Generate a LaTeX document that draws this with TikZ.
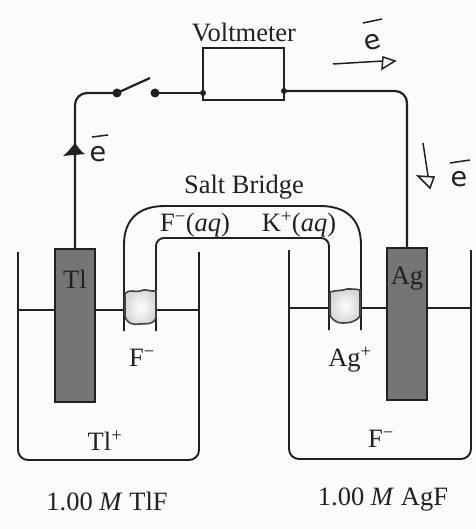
\documentclass[tikz,border=0pt]{standalone}
\usepackage{fontspec}
\setmainfont{Liberation Serif}
\newfontfamily\handfont{DejaVu Sans}
\definecolor{ink}{gray}{0.13}
\definecolor{metal}{gray}{0.46}
\definecolor{paper}{gray}{0.985}
\tikzset{
  lbl/.style={inner sep=0pt,font=\fontsize{26.5}{28}\selectfont,text=ink},
  wire/.style={draw=ink,line width=2.2pt},
  glassline/.style={draw=ink,line width=1.9pt},
  thinline/.style={draw=ink,line width=1.6pt},
  electrode/.style={draw=ink,fill=metal,line width=1.5pt,minimum width=40pt,inner sep=0pt,outer sep=0pt},
  dotnode/.style={circle,fill=ink,minimum size=9pt,inner sep=0pt},
  hande/.style={inner sep=0pt,text=ink,font=\handfont\fontsize{27}{28}\selectfont},
  hand/.style={draw=ink,line width=1.5pt},
  plug/.style={draw=ink!85,line width=1.6pt,inner color=white,outer color=gray!32}
}
\begin{document}
\begin{tikzpicture}[x=1pt,y=-1pt]
\useasboundingbox (0,0) rectangle (475,529);
\fill[paper] (0,0) rectangle (475,529);
% beakers
\draw[glassline,rounded corners=10pt] (18,252) -- (18,460) -- (199,460) -- (199,252);
\draw[glassline,rounded corners=10pt] (289,250) -- (289,459) -- (471,459) -- (471,250);
\draw[thinline] (18,310) -- (199,310);
\draw[thinline] (289,308) -- (471,308);
% salt bridge
\draw[glassline] (124,331) -- (124,245) .. controls (124,218) and (140,206) .. (165,206) -- (320,206) .. controls (345,206) and (361,218) .. (361,245) -- (361,330);
\draw[glassline,rounded corners=8pt] (156,331) -- (156,238) -- (329,238) -- (329,330);
% plugs
\draw[plug] (125,294) .. controls (130,288) and (135,293) .. (140,291) .. controls (146,288) and (150,292) .. (156,291) -- (156,318) .. controls (152,326) and (146,323) .. (140,324) .. controls (133,325) and (127,324) .. (125,316) -- cycle;
\draw[plug] (330,292) .. controls (336,290) and (342,291) .. (347,289) .. controls (352,289) and (356,289) .. (360,290) -- (360,316) .. controls (355,323) and (348,323) .. (342,323) .. controls (337,323) and (332,320) .. (330,315) -- cycle;
% electrodes
\node[electrode,minimum height=153pt,anchor=north] (tl) at (75,249) {};
\node[electrode,minimum height=152pt,anchor=north] (ag) at (407,248) {};
\node[lbl] (tltxt) at (75,279) {Tl};
\node[lbl] (agtxt) at (407,279) {Ag};
% voltmeter and switch
\node[draw=ink,line width=2pt,minimum width=81pt,minimum height=52pt,inner sep=0pt,outer sep=0pt] (vm) at (243.5,74) {};
\node[dotnode] (sw1) at (117,93) {};
\node[dotnode] (sw2) at (155,93) {};
\coordinate (blade) at (150,78);
\coordinate (vml) at (203,93);
\coordinate (vmr) at (284,91);
\draw[wire,rounded corners=12pt] (tl.north) -- (75,93) -- (sw1.center);
\draw[wire] (sw1.center) -- (blade);
\draw[wire] (sw2.center) -- (vml);
\draw[wire,rounded corners=12pt] (vmr) -- (ag.north |- vmr) -- (ag.north);
\fill[ink] (vml) circle (3pt) (vmr) circle (3pt);
% solid arrow on left wire
\coordinate (tipL) at (75,143);
\fill[ink] (tipL) .. controls (79,148) and (81,152) .. (85,154) .. controls (77,155) and (70,155) .. (63,156) .. controls (68,152) and (71,148) .. (tipL) -- cycle;
% handwritten arrows
\coordinate (a1s) at (333,64);
\coordinate (a1e) at (383,61);
\draw[hand] (a1s) -- (a1e);
\draw[hand] (383,57) -- (395,61) -- (382,69) -- cycle;
\coordinate (a2s) at (423,143);
\coordinate (a2e) at (428,176);
\draw[hand] (a2s) -- (a2e);
\draw[hand] (418,176) -- (434,177) -- (430,188) -- cycle;
% handwritten e with bars
\node[hande] (e1) at (98,154) {e};
\draw[hand] (92,137) -- (108,135);
\node[hande,rotate=15] (e2) at (373,42) {e};
\draw[hand] (363,23) -- (382,19);
\node[hande] (e3) at (459,179) {e};
\draw[hand] (450,163) -- (470,160);
% labels
\node[lbl] (voltlbl) at (244,33) {Voltmeter};
\node[lbl] (bridgelbl) at (244,187) {Salt Bridge};
\node[lbl] (faq) at (195,225) {F\textsuperscript{−}(\textit{aq})};
\node[lbl] (kaq) at (299,225) {K\textsuperscript{+}(\textit{aq})};
\node[lbl] (fl) at (142,358) {F\textsuperscript{−}};
\node[lbl] (tlp) at (105,441) {Tl\textsuperscript{+}};
\node[lbl] (agp) at (350,360) {Ag\textsuperscript{+}};
\node[lbl] (fr) at (381,439) {F\textsuperscript{−}};
\node[lbl] (cl) at (107,501) {1.00 \textit{M} TlF};
\node[lbl] (cr) at (383,500) {1.00 \textit{M} AgF};
\end{tikzpicture}
\end{document}
